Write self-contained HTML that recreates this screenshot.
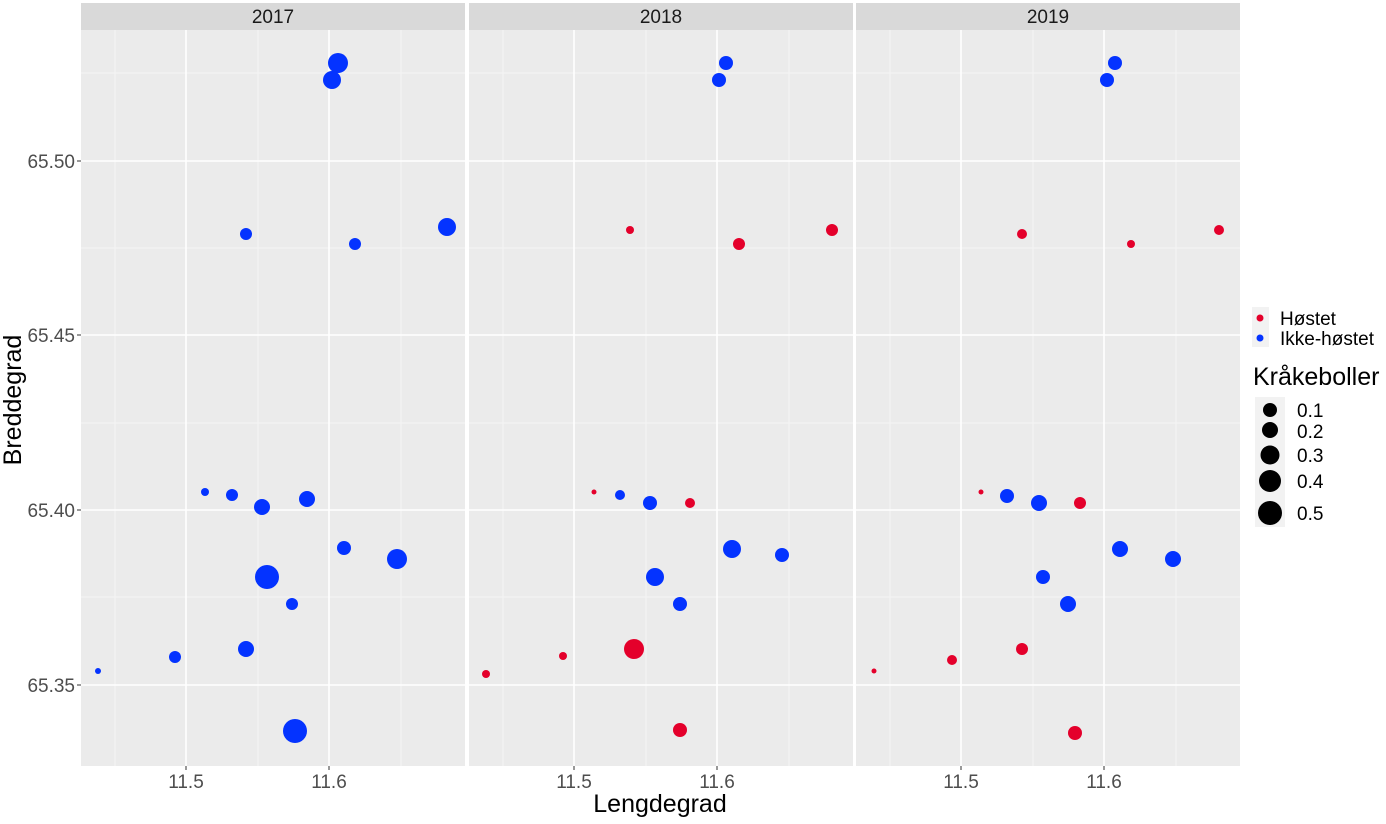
<!DOCTYPE html><html><head><meta charset="utf-8"><style>body{margin:0;background:#fff}svg{font-family:"Liberation Sans",Arial,sans-serif}</style></head><body>
<svg width="1386" height="819" viewBox="0 0 1386 819" xmlns="http://www.w3.org/2000/svg">
<g id="p">
<rect x="81" y="3" width="384" height="27" fill="#d9d9d9"/>
<rect x="81" y="30" width="384" height="736" fill="#ebebeb"/>
<g stroke="#f5f5f5" stroke-width="1"><line x1="115" y1="30" x2="115" y2="766"/><line x1="258" y1="30" x2="258" y2="766"/><line x1="401" y1="30" x2="401" y2="766"/>
<line x1="81" y1="73" x2="465" y2="73"/><line x1="81" y1="248" x2="465" y2="248"/><line x1="81" y1="423" x2="465" y2="423"/><line x1="81" y1="597" x2="465" y2="597"/></g>
<g stroke="#fff" stroke-width="1.6"><line x1="186" y1="30" x2="186" y2="766"/><line x1="329" y1="30" x2="329" y2="766"/>
<line x1="81" y1="161" x2="465" y2="161"/><line x1="81" y1="335" x2="465" y2="335"/><line x1="81" y1="510" x2="465" y2="510"/><line x1="81" y1="685" x2="465" y2="685"/></g>
<g stroke="#333" stroke-width="1"><line x1="186" y1="766" x2="186" y2="770"/><line x1="329" y1="766" x2="329" y2="770"/></g>
<text x="186" y="788" font-size="19" fill="#4d4d4d" text-anchor="middle">11.5</text><text x="329" y="788" font-size="19" fill="#4d4d4d" text-anchor="middle">11.6</text>
</g>
<use href="#p" x="388"/><use href="#p" x="775"/>
<g font-size="19" fill="#1a1a1a" text-anchor="middle"><text x="273" y="23">2017</text><text x="661" y="23">2018</text><text x="1048" y="23">2019</text></g>
<g font-size="19" fill="#4d4d4d" text-anchor="end"><text x="75" y="168">65.50</text><text x="75" y="342">65.45</text><text x="75" y="517">65.40</text><text x="75" y="692">65.35</text></g>
<g stroke="#333"><line x1="77" y1="161" x2="81" y2="161"/><line x1="77" y1="335" x2="81" y2="335"/><line x1="77" y1="510" x2="81" y2="510"/><line x1="77" y1="685" x2="81" y2="685"/></g>
<text x="660" y="812" font-size="25" text-anchor="middle">Lengdegrad</text>
<text transform="translate(21,400) rotate(-90)" font-size="25" text-anchor="middle">Breddegrad</text>
<rect x="1252" y="307" width="17" height="40" fill="#f2f2f2"/>
<g fill="#0433ff">
<circle cx="338" cy="63" r="10"/><circle cx="332" cy="80" r="9"/><circle cx="246" cy="234" r="6"/><circle cx="355" cy="244" r="6"/><circle cx="447" cy="227" r="9"/><circle cx="205" cy="492" r="4"/><circle cx="232" cy="495" r="6"/><circle cx="262" cy="507" r="8"/><circle cx="307" cy="499" r="8"/><circle cx="344" cy="548" r="7"/><circle cx="397" cy="559" r="10"/><circle cx="267" cy="577" r="12"/><circle cx="292" cy="604" r="6"/><circle cx="246" cy="649" r="8"/><circle cx="175" cy="657" r="6"/><circle cx="98" cy="671" r="3"/><circle cx="295" cy="731" r="12"/>
<circle cx="726" cy="63" r="7"/><circle cx="719" cy="80" r="7"/><circle cx="620" cy="495" r="5"/><circle cx="650" cy="503" r="7"/><circle cx="732" cy="549" r="9"/><circle cx="782" cy="555" r="7"/><circle cx="655" cy="577" r="9"/><circle cx="680" cy="604" r="7"/>
<circle cx="1115" cy="63" r="7"/><circle cx="1107" cy="80" r="7"/><circle cx="1007" cy="496" r="7"/><circle cx="1039" cy="503" r="8"/><circle cx="1120" cy="549" r="8"/><circle cx="1173" cy="559" r="8"/><circle cx="1043" cy="577" r="7"/><circle cx="1068" cy="604" r="8"/>
<circle cx="1260" cy="338" r="3.5"/></g>
<g fill="#e4002b">
<circle cx="630" cy="230" r="4"/><circle cx="739" cy="244" r="6"/><circle cx="832" cy="230" r="6"/><circle cx="594" cy="492" r="2.5"/><circle cx="690" cy="503" r="5"/><circle cx="634" cy="649" r="10"/><circle cx="563" cy="656" r="4"/><circle cx="486" cy="674" r="4"/><circle cx="680" cy="730" r="7"/>
<circle cx="1022" cy="234" r="5"/><circle cx="1131" cy="244" r="4"/><circle cx="1219" cy="230" r="5"/><circle cx="981" cy="492" r="2.5"/><circle cx="1080" cy="503" r="6"/><circle cx="1022" cy="649" r="6"/><circle cx="952" cy="660" r="5"/><circle cx="874" cy="671" r="2.5"/><circle cx="1075" cy="733" r="7"/>
<circle cx="1260" cy="318" r="3.5"/></g>
<g font-size="19"><text x="1280" y="325">Høstet</text><text x="1280" y="345">Ikke-høstet</text></g>
<text x="1253" y="385" font-size="25">Kråkeboller</text>
<rect x="1255" y="397" width="30" height="130" fill="#f2f2f2"/>
<g fill="#000"><circle cx="1270" cy="410" r="7"/><circle cx="1270" cy="430" r="8"/><circle cx="1270" cy="455" r="9.5"/><circle cx="1270" cy="481" r="11"/><circle cx="1270" cy="513" r="12"/></g>
<g font-size="19"><text x="1297" y="417">0.1</text><text x="1297" y="438">0.2</text><text x="1297" y="462">0.3</text><text x="1297" y="488">0.4</text><text x="1297" y="520">0.5</text></g>
</svg></body></html>
